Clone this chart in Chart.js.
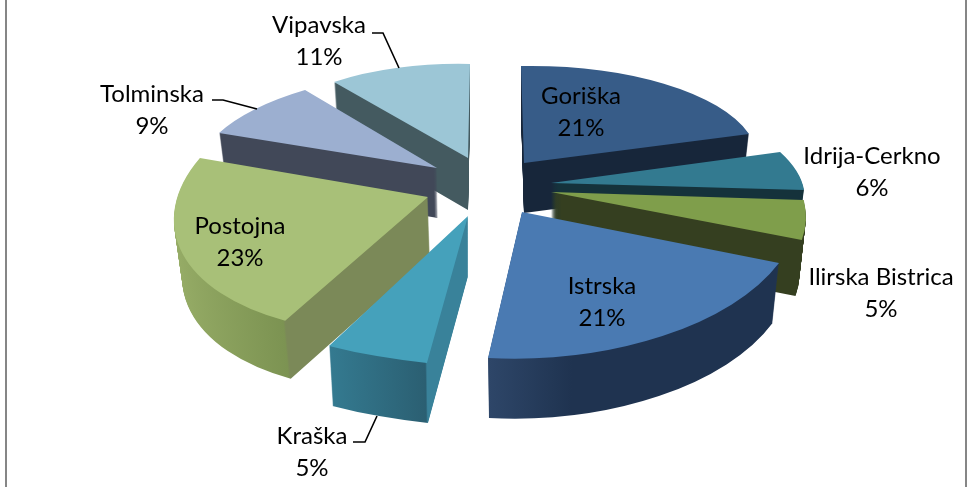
<!DOCTYPE html>
<html lang="sl">
<head>
  <meta charset="UTF-8" />
  <title>Regije</title>
  <style>
    html, body { margin: 0; padding: 0; background: #fff; overflow: hidden; }
    #wrap { position: relative; width: 968px; height: 487px; }
    #frame { position: absolute; left: 5px; top: 0; width: 958px; height: 487px; border-left: 2px solid #868686; border-right: 2px solid #868686; }
    canvas { position: absolute; left: 0; top: 0; }
  </style>
</head>
<body>
  <div id="wrap">
    <div id="frame"></div>
    <canvas id="chart" width="968" height="487"></canvas>
  </div>

  <script src="https://cdn.jsdelivr.net/npm/chart.js"></script>
  <script>
    const categories = ["Goriška", "Idrija-Cerkno", "Ilirska Bistrica", "Istrska", "Kraška", "Postojna", "Tolminska", "Vipavska"];
    const shares = [21, 6, 5, 21, 5, 23, 9, 11];

    const topColors = ["#375c88", "#337a90", "#7f9e4b", "#4a7ab2", "#45a1bb", "#a8c078", "#9cafd0", "#9cc6d6"];
    // side shading, stops are in pie x units (-1 left edge, 1 right edge)
    const sideStops = [
      [[-1, "#17263a"], [1, "#17263a"]],
      [[-1, "#15323b"], [1, "#15323b"]],
      [[-1, "#353f20"], [1, "#353f20"]],
      [[-0.2, "#30496c"], [0.15, "#1f3350"], [1, "#1f3350"]],
      [[-0.45, "#347a90"], [-0.16, "#2b5f72"], [-0.155, "#39829a"], [1, "#39829a"]],
      [[-1, "#97ad67"], [-0.46, "#7c9352"], [-0.45, "#7b8958"], [1, "#7b8958"]],
      [[-1, "#414858"], [1, "#414858"]],
      [[-1, "#445a60"], [1, "#445a60"]]
    ];

    // how far each slice is pulled out of the pie
    const explodeX = [44, 71, 71, 42, -12, -52, -43, -12];
    const explodeY = [-27, -7, 2, 22, 26, 7, -22, -32];
    // perspective of each slice: [xx, xy, yx, yy] in px per unit radius
    const tilt = [
      [234, 3, -3.8, 97],
      [249.6, 45.3, -4.3, 103],
      [247.7, 60.4, -6.4, 132],
      [277.4, 9.1, -9.5, 146.3],
      [328.9, 10, 9.4, 150.2],
      [252, -33, -5, 136],
      [238.3, -24.1, 4, 97.5],
      [214.5, -2, 5, 94]
    ];
    const depth = [50, 50, 56, 60, 60, 58, 50, 52];
    const sideDrift = [0, 0, 0, 0, 0, 2, 1, 0];
    const drawOrder = [7, 0, 6, 1, 2, 5, 4, 3];

    const labelAt = [[581, 96], [872, 156], [881, 277], [602, 286], [312, 436], [240, 226], [152, 94], [319, 25]];
    const lineGap = 32.5;
    const leaders = [
      [[372, 33], [383, 33], [399, 68]],
      [[212, 100], [223, 100], [257, 109]],
      [[353, 442], [365, 442], [377, 416]]
    ];

    function withFill(arc, fill, ctx) {
      const saved = arc.options;
      arc.options = Object.assign({}, saved, { backgroundColor: fill });
      arc.draw(ctx);
      arc.options = saved;
    }

    const tiltedPie = {
      id: "tiltedPie",
      beforeDatasetDraw(chart, args) {
        const ctx = chart.ctx;
        const arcs = args.meta.data;
        drawOrder.forEach(i => {
          const arc = arcs[i];
          const R = arc.outerRadius;
          const m = tilt[i];
          const ax = arc.x + explodeX[i];
          const ay = arc.y + explodeY[i];
          const grad = ctx.createLinearGradient(arc.x - R, 0, arc.x + R, 0);
          sideStops[i].forEach(s => grad.addColorStop((s[0] + 1) / 2, s[1]));

          for (let k = depth[i]; k >= 0; k--) {
            const shrink = 1 - 0.025 * k / depth[i];
            ctx.save();
            ctx.translate(ax + sideDrift[i] * k / depth[i], ay + k);
            ctx.transform(m[0] * shrink / R, m[2] / R, m[1] * shrink / R, m[3] / R, 0, 0);
            ctx.translate(-arc.x, -arc.y);
            if (k > 0) withFill(arc, grad, ctx);
            else arc.draw(ctx);
            ctx.restore();
          }
        });
        return false;
      },
      afterDraw(chart) {
        const ctx = chart.ctx;
        ctx.save();
        ctx.strokeStyle = "#000";
        ctx.lineWidth = 1.6;
        leaders.forEach(pts => {
          ctx.beginPath();
          pts.forEach((p, j) => j ? ctx.lineTo(p[0], p[1]) : ctx.moveTo(p[0], p[1]));
          ctx.stroke();
        });
        ctx.fillStyle = "#000";
        ctx.font = "24px Lato";
        ctx.textAlign = "center";
        ctx.textBaseline = "middle";
        categories.forEach((name, i) => {
          ctx.fillText(name, labelAt[i][0], labelAt[i][1]);
          ctx.fillText(shares[i] + "%", labelAt[i][0], labelAt[i][1] + lineGap);
        });
        ctx.restore();
      }
    };

    new Chart(document.getElementById("chart").getContext("2d"), {
      type: "pie",
      data: {
        labels: categories,
        datasets: [{ data: shares, backgroundColor: topColors, borderWidth: 0 }]
      },
      options: {
        responsive: false,
        animation: false,
        layout: { padding: { right: 8, bottom: 107 } },
        plugins: { legend: { display: false }, tooltip: { enabled: false } }
      },
      plugins: [tiltedPie]
    });
  </script>
</body>
</html>
